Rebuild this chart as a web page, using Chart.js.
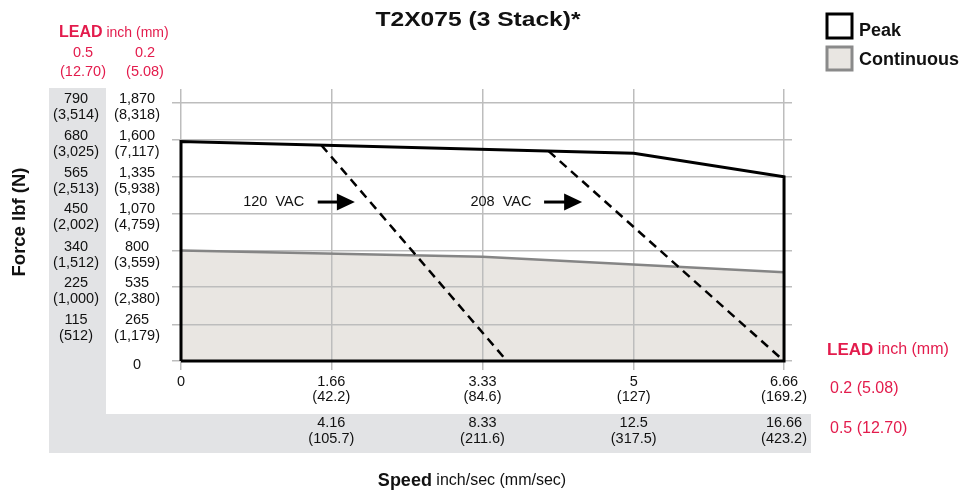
<!DOCTYPE html>
<html>
<head>
<meta charset="utf-8">
<script src="https://cdn.jsdelivr.net/npm/chart.js@4.4.1/dist/chart.umd.min.js"></script>
<style>
  html, body { margin: 0; padding: 0; background: #fff; }
</style>
</head>
<body>
<canvas id="chart" width="967" height="493"></canvas>
<script>
// speed axis (inch/sec at 0.2 lead) and the tick labels for both leads
const speedTicks = [0, 1.66, 3.33, 5, 6.66];
const speedLabels02 = [['0'], ['1.66', '(42.2)'], ['3.33', '(84.6)'], ['5', '(127)'], ['6.66', '(169.2)']];
const speedLabels05 = [[''], ['4.16', '(105.7)'], ['8.33', '(211.6)'], ['12.5', '(317.5)'], ['16.66', '(423.2)']];

// force axis (lbf at 0.2 lead) and the tick labels for both leads
const forceTicks = [0, 265, 535, 800, 1070, 1335, 1600, 1870];
const forceLabels02 = [['0'], ['265', '(1,179)'], ['535', '(2,380)'], ['800', '(3,559)'], ['1,070', '(4,759)'], ['1,335', '(5,938)'], ['1,600', '(7,117)'], ['1,870', '(8,318)']];
const forceLabels05 = [[''], ['115', '(512)'], ['225', '(1,000)'], ['340', '(1,512)'], ['450', '(2,002)'], ['565', '(2,513)'], ['680', '(3,025)'], ['790', '(3,514)']];

// curves
const peakSpeed = [0, 0, 5, 6.66, 6.66, 0];
const peakForce = [0, 1590, 1505, 1335, 0, 0];
const contSpeed = [0, 3.33, 6.66];
const contForce = [800, 756, 643];
const vac120Speed = [1.55, 3.60];
const vac120Force = [1564, 0];
const vac208Speed = [4.06, 6.66];
const vac208Force = [1521, 0];

// voltage notes: label, speed where the text ends, arrow start/end speed, force level
const vacNotes = [
  { text: '120  VAC', textEnd: 1.36, from: 1.51, to: 1.92, force: 1152 },
  { text: '208  VAC', textEnd: 3.87, from: 4.01, to: 4.43, force: 1152 }
];

const RED = '#e31b4c';
const SANS = "'Liberation Sans', Arial, sans-serif";

const pts = (xs, ys) => xs.map((x, i) => ({ x: x, y: ys[i] }));

function drawRuns(ctx, x, y, runs, align) {
  let total = 0;
  runs.forEach(r => { ctx.font = r.font; total += ctx.measureText(r.text).width; });
  if (align === 'center') x -= total / 2;
  ctx.textAlign = 'left';
  ctx.textBaseline = 'middle';
  runs.forEach(r => {
    ctx.font = r.font;
    ctx.fillStyle = r.color;
    ctx.fillText(r.text, x, y);
    x += ctx.measureText(r.text).width;
  });
}

const panelPlugin = {
  id: 'panels',
  beforeDraw(chart) {
    const ctx = chart.ctx;
    const y05 = chart.scales.y05, x2 = chart.scales.x2;
    ctx.save();
    ctx.fillStyle = '#e2e3e5';
    ctx.fillRect(y05.left, chart.chartArea.top - 1, y05.right - y05.left, x2.bottom - chart.chartArea.top + 1);
    ctx.fillRect(y05.left, x2.top, x2.right + 19 - y05.left, x2.bottom - x2.top);
    ctx.restore();
  }
};

const textPlugin = {
  id: 'texts',
  afterDraw(chart) {
    const ctx = chart.ctx;
    const xs = chart.scales.x, ys = chart.scales.y;
    ctx.save();

    // title (the original lettering is wide, so stretch it a little)
    ctx.save();
    ctx.translate(478, 20);
    ctx.scale(1.2, 1);
    drawRuns(ctx, 0, 0, [{ text: 'T2X075 (3 Stack)*', font: 'bold 20.5px ' + SANS, color: '#111' }], 'center');
    ctx.restore();

    // lead header, top left
    drawRuns(ctx, 59, 33, [
      { text: 'LEAD', font: 'bold 16px ' + SANS, color: RED },
      { text: ' inch (mm)', font: '14px ' + SANS, color: RED }
    ]);
    drawRuns(ctx, 83, 53, [{ text: '0.5', font: '14.5px ' + SANS, color: RED }], 'center');
    drawRuns(ctx, 83, 72, [{ text: '(12.70)', font: '14.5px ' + SANS, color: RED }], 'center');
    drawRuns(ctx, 145, 53, [{ text: '0.2', font: '14.5px ' + SANS, color: RED }], 'center');
    drawRuns(ctx, 145, 72, [{ text: '(5.08)', font: '14.5px ' + SANS, color: RED }], 'center');

    // lead labels, right of the speed rows
    drawRuns(ctx, 827, 350, [
      { text: 'LEAD', font: 'bold 17px ' + SANS, color: RED },
      { text: ' inch (mm)', font: '16px ' + SANS, color: RED }
    ]);
    drawRuns(ctx, 830, 389, [{ text: '0.2 (5.08)', font: '16px ' + SANS, color: RED }]);
    drawRuns(ctx, 830, 429, [{ text: '0.5 (12.70)', font: '16px ' + SANS, color: RED }]);

    // axis titles
    drawRuns(ctx, 472, 481, [
      { text: 'Speed', font: 'bold 18px ' + SANS, color: '#111' },
      { text: ' inch/sec (mm/sec)', font: '16px ' + SANS, color: '#111' }
    ], 'center');
    ctx.save();
    ctx.translate(20, 222);
    ctx.rotate(-Math.PI / 2);
    drawRuns(ctx, 0, 0, [{ text: 'Force lbf (N)', font: 'bold 18.5px ' + SANS, color: '#111' }], 'center');
    ctx.restore();

    // legend
    ctx.lineWidth = 3;
    ctx.fillStyle = '#fff';
    ctx.strokeStyle = '#000';
    ctx.fillRect(827, 14, 25, 24);
    ctx.strokeRect(827, 14, 25, 24);
    ctx.fillStyle = '#e9e6e2';
    ctx.strokeStyle = '#8a8a8a';
    ctx.fillRect(827, 47, 25, 23);
    ctx.strokeRect(827, 47, 25, 23);
    drawRuns(ctx, 859, 31, [{ text: 'Peak', font: 'bold 18px ' + SANS, color: '#111' }]);
    drawRuns(ctx, 859, 60, [{ text: 'Continuous', font: 'bold 18px ' + SANS, color: '#111' }]);

    // voltage notes with arrows
    vacNotes.forEach(n => {
      const y = ys.getPixelForValue(n.force);
      const xEnd = xs.getPixelForValue(n.textEnd);
      ctx.font = '14.5px ' + SANS;
      ctx.fillStyle = '#111';
      ctx.textAlign = 'right';
      ctx.textBaseline = 'middle';
      ctx.fillText(n.text, xEnd, y);
      const a = xs.getPixelForValue(n.from), b = xs.getPixelForValue(n.to);
      const head = b - 18;
      ctx.strokeStyle = '#000';
      ctx.lineWidth = 3;
      ctx.beginPath();
      ctx.moveTo(a, y);
      ctx.lineTo(head + 1, y);
      ctx.stroke();
      ctx.fillStyle = '#000';
      ctx.beginPath();
      ctx.moveTo(head, y - 8.5);
      ctx.lineTo(b, y);
      ctx.lineTo(head, y + 8.5);
      ctx.closePath();
      ctx.fill();
    });

    ctx.restore();
  }
};

const gridColor = '#bdbdbd';
const tickFont = { family: SANS, size: 14.5, lineHeight: 1.1 };

new Chart(document.getElementById('chart'), {
  type: 'line',
  data: {
    datasets: [
      {
        label: 'Peak',
        data: pts(peakSpeed, peakForce),
        borderColor: '#000',
        borderWidth: 3,
        pointRadius: 0,
        fill: false,
        tension: 0,
        xAxisID: 'x', yAxisID: 'y'
      },
      {
        label: '120 VAC',
        data: pts(vac120Speed, vac120Force),
        borderColor: '#000',
        borderWidth: 2.5,
        borderDash: [9, 6],
        pointRadius: 0,
        fill: false,
        xAxisID: 'x', yAxisID: 'y'
      },
      {
        label: '208 VAC',
        data: pts(vac208Speed, vac208Force),
        borderColor: '#000',
        borderWidth: 2.5,
        borderDash: [9, 6],
        pointRadius: 0,
        fill: false,
        xAxisID: 'x', yAxisID: 'y'
      },
      {
        label: 'Continuous',
        data: pts(contSpeed, contForce),
        borderColor: '#858585',
        borderWidth: 2.5,
        backgroundColor: '#e9e6e2',
        pointRadius: 0,
        fill: 'origin',
        tension: 0,
        xAxisID: 'x', yAxisID: 'y'
      }
    ]
  },
  options: {
    responsive: false,
    animation: false,
    events: [],
    layout: { padding: { left: 49, right: 175, top: 89, bottom: 40 } },
    plugins: {
      legend: { display: false },
      tooltip: { enabled: false },
      title: { display: false },
      filler: { drawTime: 'beforeDraw' }
    },
    scales: {
      x: {
        type: 'linear', axis: 'x', position: 'bottom', weight: 0,
        min: -0.0994, max: 6.748,
        afterBuildTicks: s => { s.ticks = speedTicks.map(v => ({ value: v })); },
        afterFit: s => { s.height = 44; },
        ticks: { callback: (v, i) => speedLabels02[i], font: { family: SANS, size: 14.5, lineHeight: 1.03 }, color: '#111', padding: 5, maxRotation: 0, autoSkip: false },
        grid: { color: gridColor, lineWidth: 1.5, drawTicks: false },
        border: { display: false }
      },
      x2: {
        type: 'linear', axis: 'x', position: 'bottom', weight: 1,
        min: -0.0994, max: 6.748,
        afterBuildTicks: s => { s.ticks = speedTicks.map(v => ({ value: v })); },
        afterFit: s => { s.height = 39; },
        ticks: { callback: (v, i) => speedLabels05[i], font: tickFont, color: '#111', padding: 1, maxRotation: 0, autoSkip: false },
        grid: { display: false, drawTicks: false },
        border: { display: false }
      },
      y: {
        type: 'linear', axis: 'y', position: 'left', weight: 0,
        min: -65, max: 1971,
        afterBuildTicks: s => { s.ticks = forceTicks.map(v => ({ value: v })); },
        afterFit: s => { s.width = 66; },
        ticks: { callback: (v, i) => forceLabels02[i], font: tickFont, color: '#111', padding: 12, crossAlign: 'center', labelOffset: 4, autoSkip: false },
        grid: { color: gridColor, lineWidth: 1.5, drawTicks: false },
        border: { display: false }
      },
      y05: {
        type: 'linear', axis: 'y', position: 'left', weight: 1,
        min: -65, max: 1971,
        afterBuildTicks: s => { s.ticks = forceTicks.map(v => ({ value: v })); },
        afterFit: s => { s.width = 57; },
        ticks: { callback: (v, i) => forceLabels05[i], font: tickFont, color: '#111', padding: 7, crossAlign: 'center', labelOffset: 4, autoSkip: false },
        grid: { display: false, drawTicks: false },
        border: { display: false }
      }
    }
  },
  plugins: [panelPlugin, textPlugin]
});
</script>
</body>
</html>
